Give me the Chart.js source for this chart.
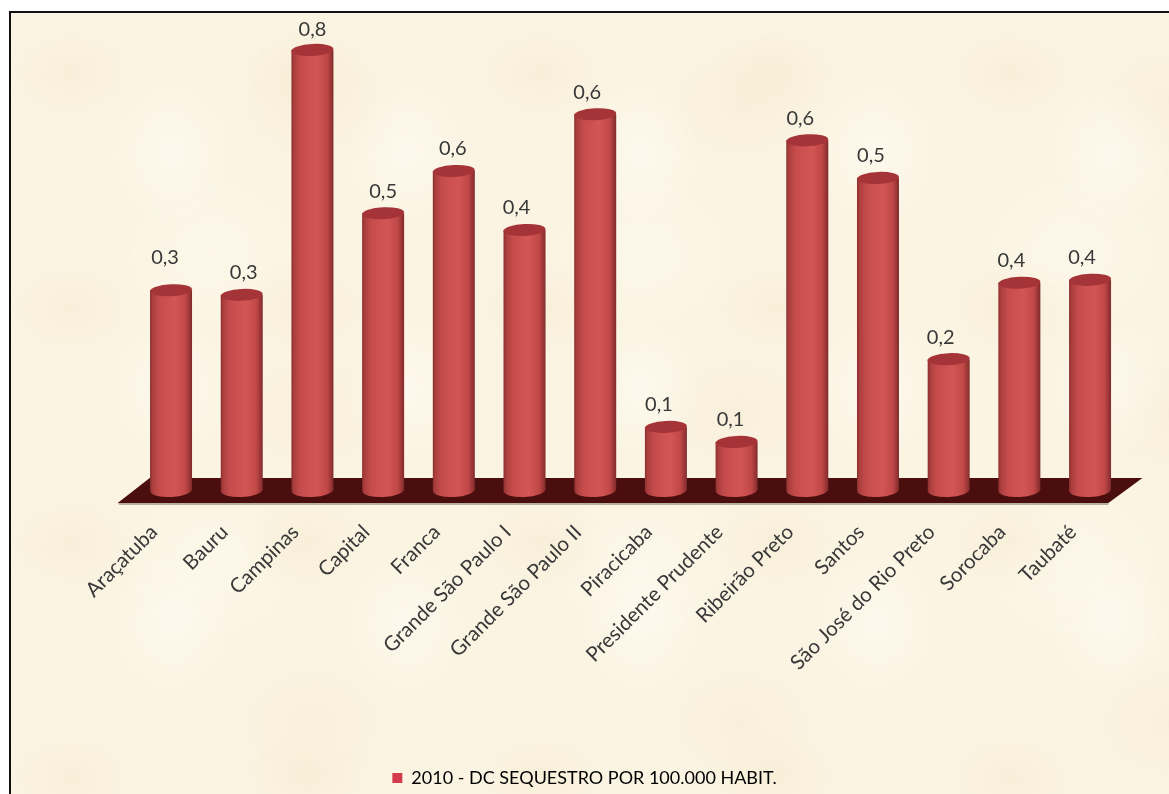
<!DOCTYPE html>
<html><head><meta charset="utf-8">
<script src="https://cdn.jsdelivr.net/npm/chart.js@4"></script>
<style>
html,body{margin:0;padding:0;background:#fff;width:1169px;height:794px;overflow:hidden}
#frame{position:absolute;left:9px;top:11px;width:1160px;height:783px;box-sizing:border-box;border-left:2px solid #111;border-top:2px solid #111;
background-color:#fbf4e3;
background-image:
radial-gradient(ellipse 70px 50px at 60px 60px,rgba(244,230,200,.35),transparent),
radial-gradient(ellipse 60px 70px at 160px 140px,rgba(255,252,244,.55),transparent),
radial-gradient(ellipse 90px 70px at 300px 90px,rgba(244,230,202,.3),transparent),
radial-gradient(ellipse 90px 80px at 200px 240px,rgba(255,252,244,.4),transparent);
background-size:235px 235px,235px 235px,430px 310px,430px 310px}
#c{position:absolute;left:0;top:0}
</style></head><body>
<div id="frame"></div>
<canvas id="c" width="1169" height="794"></canvas>
<script>
const categories=["Araçatuba","Bauru","Campinas","Capital","Franca","Grande São Paulo I","Grande São Paulo II","Piracicaba","Presidente Prudente","Ribeirão Preto","Santos","São José do Rio Preto","Sorocaba","Taubaté"];
const values2010=[0.345,0.337,0.76,0.478,0.551,0.449,0.649,0.109,0.083,0.604,0.539,0.226,0.358,0.363];
const seriesName="2010 - DC SEQUESTRO POR 100.000 HABIT.";
const labelShiftX=[-6,2,0,0,-1,-8,-8,-7,-6,-7,-7,-8,-8,-8];
const labelShiftY=[-33,-22,-20,-22,-22,-22,-22,-22,-22,-22,-22,-22,-22,-22];

function ellipse(c,x,y,rx,ry,fill){c.save();c.beginPath();c.ellipse(x,y,rx,ry,-0.05,0,Math.PI*2);c.fillStyle=fill;c.fill();c.restore();}
function sideGrad(c,x,w){const g=c.createLinearGradient(x-w/2,0,x+w/2,0);
 g.addColorStop(0,'#8a2e2e');g.addColorStop(.06,'#ab3e3e');g.addColorStop(.22,'#c64c4c');g.addColorStop(.6,'#d35655');g.addColorStop(.85,'#bf4847');g.addColorStop(.96,'#933232');g.addColorStop(1,'#7e2a2a');return g;}

const cylinder={id:'cylinder',
 beforeDatasetsDraw(chart){const c=chart.ctx,s=chart.scales,y0=s.y.getPixelForValue(0);
  const l=s.x.left,r=s.x.right;
  const top=y0-12,bot=y0+13;
  c.save();
  c.beginPath();c.moveTo(l+14,top);c.lineTo(r+17,top);c.lineTo(r-17,bot);c.lineTo(l-18,bot);c.closePath();
  c.fillStyle='#4a0e0e';c.fill();
  c.beginPath();c.moveTo(l-18,bot);c.lineTo(r-17,bot);c.lineTo(r-17,bot+2);c.lineTo(l-16,bot+2);c.closePath();
  c.fillStyle='rgba(90,70,55,.4)';c.fill();
  c.restore();
  chart.getDatasetMeta(0).data.forEach(b=>{ellipse(c,b.x,y0,b.width/2,7,sideGrad(c,b.x,b.width));});
 },
 afterDatasetsDraw(chart){const c=chart.ctx;
  chart.getDatasetMeta(0).data.forEach((b,i)=>{
   ellipse(c,b.x,b.y,b.width/2,6,'#a53438');
   c.save();c.font='20px Lato';c.fillStyle='#383838';c.textAlign='center';c.textBaseline='middle';
   c.fillText(values2010[i].toFixed(1).replace('.',','),b.x+labelShiftX[i],b.y+labelShiftY[i]);c.restore();
  });
 }};

new Chart(document.getElementById('c'),{
 type:'bar',
 data:{labels:categories,datasets:[{label:seriesName,data:values2010,
  backgroundColor(ctx){const ch=ctx.chart,x=ch.scales.x;
   if(!x||ctx.dataIndex===undefined)return '#cf4450';
   const w=x.getPixelForValue(1)-x.getPixelForValue(0);
   return sideGrad(ch.ctx,x.getPixelForValue(ctx.dataIndex),w*0.594);},
  borderWidth:0,barPercentage:.594,categoryPercentage:1}]},
 plugins:[cylinder],
 options:{responsive:false,animation:false,
  layout:{padding:{left:0,right:0,top:26.8,bottom:-3}},
  scales:{
   x:{grid:{display:false},border:{display:false},
    afterFit(s){s.height=278;},
    ticks:{autoSkip:false,minRotation:45,maxRotation:45,padding:22,labelOffset:-17,color:'#383838',font:{family:'Lato',size:20.5}}},
   y:{min:0,max:.8,grid:{display:false},border:{display:false},ticks:{display:false},afterFit(s){s.width=135.7;}},
   yRight:{position:'right',min:0,max:.8,grid:{display:false},border:{display:false},ticks:{display:false},afterFit(s){s.width=43.6;}}
  },
  plugins:{tooltip:{enabled:false},
   legend:{position:'bottom',labels:{boxWidth:10,boxHeight:10,padding:1,color:'#3a3a30',font:{family:'Lato',size:18},
    generateLabels(){return [{text:seriesName,fillStyle:'#d23c4c',strokeStyle:'#d23c4c',lineWidth:0,datasetIndex:0}];}}}
  }}
});
</script></body></html>
